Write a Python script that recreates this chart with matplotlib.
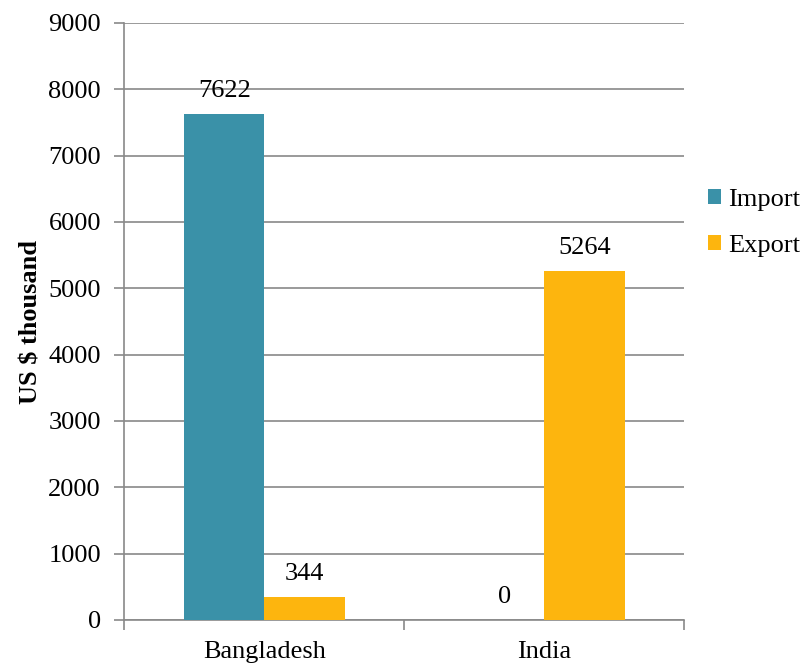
import matplotlib.pyplot as plt
import numpy as np

countries = ["Bangladesh", "India"]
imports = [7622, 0]
exports = [344, 5264]
yticks = [0, 1000, 2000, 3000, 4000, 5000, 6000, 7000, 8000, 9000]

plt.rcParams['font.family'] = ['Liberation Serif', 'DejaVu Serif']
fs = 19

fig = plt.figure(figsize=(8.04, 6.64), dpi=100)
ax = fig.add_axes([124.5/804, 1 - 620/664, (684.5-124.5)/804, (620-23)/664])

x = np.arange(len(countries))
w = 0.286
b1 = ax.bar(x - w/2, imports, w, color="#3A91A8", label="Import", zorder=3)
b2 = ax.bar(x + w/2, exports, w, color="#FDB50E", label="Export", zorder=3)

for bars in (b1, b2):
    for r in bars:
        ax.text(r.get_x() + r.get_width()/2, r.get_height() + 180, str(int(r.get_height())),
                ha="center", va="bottom", fontsize=fs)

ax.set_xlim(-0.5, 1.5)
ax.set_ylim(0, 9000)
ax.set_yticks(yticks)
ax.set_yticklabels([str(v) for v in yticks], fontsize=fs)
ax.set_xticks([-0.5, 0.5, 1.5], minor=False)
ax.set_xticklabels([])
ax.set_xticks(x, minor=True)
ax.set_xticklabels(countries, minor=True, fontsize=fs)
ax.tick_params(axis="x", which="minor", length=0, pad=15)
ax.tick_params(axis="x", which="major", length=7, color="#898989", width=1.2)
ax.tick_params(axis="y", length=7, color="#898989", width=1.2, pad=10)

ax.grid(axis="y", color="#898989", linewidth=1.2, zorder=0)
for s in ["top", "right"]:
    ax.spines[s].set_visible(False)
for s in ["left", "bottom"]:
    ax.spines[s].set_color("#898989")
    ax.spines[s].set_linewidth(1.2)

ax.set_ylabel("US $ thousand", fontsize=fs, fontweight="bold")
ax.yaxis.set_label_coords(-82/560, 0.5)

ax.legend(loc="center left", bbox_to_anchor=(1.0, 0.665), frameon=False, fontsize=fs,
          handlelength=0.5, handleheight=0.5, handletextpad=0.25, labelspacing=0.9)

fig.savefig("out.png", dpi=100)
